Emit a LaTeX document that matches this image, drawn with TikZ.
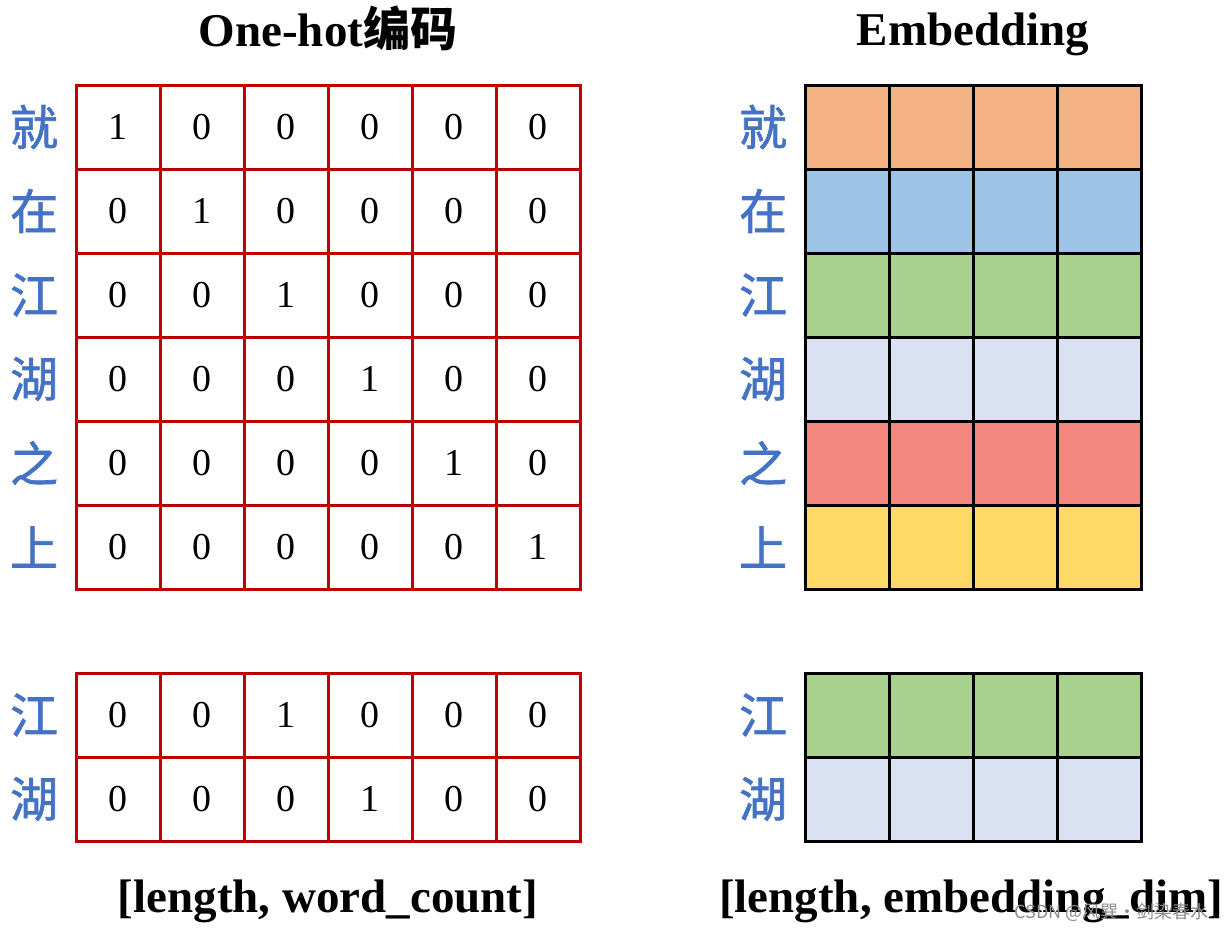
\documentclass[tikz,border=0pt]{standalone}
\usepackage{fontspec}
\setmainfont{Liberation Serif}
\newfontfamily\cjk{Noto Sans CJK SC}
\newfontfamily\cjkword[FakeBold=1.4]{Noto Sans CJK SC}
\usepackage{xcolor}
\usetikzlibrary{positioning}
\definecolor{gridred}{HTML}{C00000}
\definecolor{wordblue}{HTML}{4472C4}
\definecolor{embOrange}{HTML}{F4B183}
\definecolor{embBlue}{HTML}{9DC3E6}
\definecolor{embGreen}{HTML}{A9D18E}
\definecolor{embLilac}{HTML}{DAE1F3}
\definecolor{embRed}{HTML}{F4877D}
\definecolor{embYellow}{HTML}{FFD966}

\begin{document}
\begin{tikzpicture}[x=0.5pt,y=-0.5pt,
  ohcell/.style={draw=gridred,line width=1.5pt,minimum size=42pt,inner sep=0pt,font=\fontsize{19}{19}\selectfont},
  emcell/.style={draw=black,line width=1.5pt,minimum size=42pt,inner sep=0pt},
  word/.style={text=wordblue,inner sep=0pt,font=\cjkword\fontsize{24}{24}\selectfont},
  heading/.style={font=\bfseries\fontsize{23.5}{23.5}\selectfont,anchor=base}]
\useasboundingbox (0,0) rectangle (1230,932);
% one-hot matrix
\foreach \w [count=\i] in {就,在,江,湖,之,上} {
  \foreach \j in {1,...,6}
    \node[ohcell] (oh-\i-\j) at ({118+84*(\j-1)},{127+84*(\i-1)}) {\ifnum\i=\j\relax 1\else 0\fi};
  \node[word,left=8pt of oh-\i-1] (ohw-\i) {\w};
}
% embedding matrix
\foreach \w/\c [count=\i] in {就/embOrange,在/embBlue,江/embGreen,湖/embLilac,之/embRed,上/embYellow} {
  \foreach \j in {1,...,4}
    \node[emcell,fill=\c] (em-\i-\j) at ({847+84*(\j-1)},{127+84*(\i-1)}) {};
  \node[word,left=8pt of em-\i-1] (emw-\i) {\w};
}
% selected rows
\foreach \w/\c/\k [count=\i] in {江/embGreen/3,湖/embLilac/4} {
  \foreach \j in {1,...,6}
    \node[ohcell] (sel-\i-\j) at ({118+84*(\j-1)},{715+84*(\i-1)}) {\ifnum\k=\j\relax 1\else 0\fi};
  \node[word,left=8pt of sel-\i-1] (selw-\i) {\w};
  \foreach \j in {1,...,4}
    \node[emcell,fill=\c] (sem-\i-\j) at ({847+84*(\j-1)},{715+84*(\i-1)}) {};
  \node[word,left=8pt of sem-\i-1] (semw-\i) {\w};
}
% titles
\node[heading] (ohtitle) at (328,46) {One-hot{\cjk 编码}};
\node[heading] (emtitle) at (973,45) {Embedding};
\node[heading] (ohshape) at (328,912) {[length, word\_count]};
\node[heading] (emshape) at (971,912) {[length, embedding\_dim]};
\node[text=black!45,font=\cjk\fontsize{9}{9}\selectfont,anchor=east] (mark) at (1216,912) {CSDN @风巽·剑染春水};
\end{tikzpicture}
\end{document}
